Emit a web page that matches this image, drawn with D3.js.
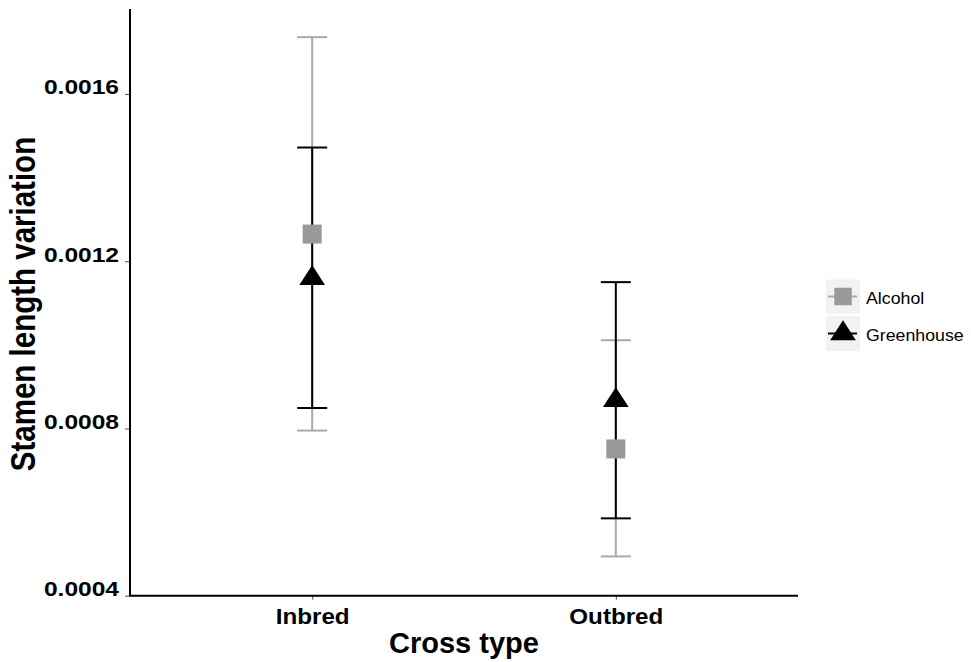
<!DOCTYPE html>
<html>
<head>
<meta charset="utf-8">
<script src="https://cdn.jsdelivr.net/npm/d3@7"></script>
<style>
  html, body { margin: 0; padding: 0; background: #fff; }
  svg { display: block; }
  text { font-family: "Liberation Sans", Arial, Helvetica, sans-serif; }
</style>
</head>
<body>
<svg id="chart" width="971" height="662"></svg>
<script>
// ---- data ----
const categories = ["Inbred", "Outbred"];
const seriesNames = ["Alcohol", "Greenhouse"];
const alcoholMean  = [0.001265, 0.000751];
const alcoholLower = [0.000795, 0.000494];
const alcoholUpper = [0.001736, 0.001011];
const greenhouseMean  = [0.001159, 0.000867];
const greenhouseLower = [0.000849, 0.000585];
const greenhouseUpper = [0.001472, 0.001150];
const yTicks = [0.0004, 0.0008, 0.0012, 0.0016];
const yTickLabels = ["0.0004", "0.0008", "0.0012", "0.0016"];

// ---- layout ----
const svg = d3.select("#chart");
const panel = { left: 130, right: 798, top: 9, bottom: 595.7 };
const colors = { Alcohol: { bar: "#a9a9a9", pt: "#999999" }, Greenhouse: { bar: "#000000", pt: "#000000" } };

const x = d3.scalePoint().domain(categories).range([panel.left, panel.right]).padding(0.6);
const y = d3.scaleLinear().domain([0.0004, 0.0018033]).range([panel.bottom, panel.top]);

const series = [
  { name: "Alcohol", mean: alcoholMean, lo: alcoholLower, hi: alcoholUpper, shape: "square" },
  { name: "Greenhouse", mean: greenhouseMean, lo: greenhouseLower, hi: greenhouseUpper, shape: "triangle" }
];

// ---- axes ----
const yAxis = d3.axisLeft(y).tickValues(yTicks).tickFormat((d, i) => yTickLabels[i]).tickSize(5).tickSizeOuter(0);
const gy = svg.append("g").attr("transform", `translate(${panel.left},0)`).call(yAxis);
gy.select(".domain").remove();
gy.selectAll(".tick line").attr("stroke", "#555").attr("stroke-width", 1);
gy.selectAll(".tick text")
  .attr("fill", "#000").attr("font-size", 21).attr("font-weight", "bold")
  .attr("dy", 0).attr("x", -11 / 1.17).attr("transform", "scale(1.17,1)");

const xAxis = d3.axisBottom(x).tickSize(4).tickSizeOuter(0);
const gx = svg.append("g").attr("transform", `translate(0,${panel.bottom})`).call(xAxis);
gx.select(".domain").remove();
gx.selectAll(".tick line").attr("stroke", "#555").attr("stroke-width", 1);
gx.selectAll(".tick text")
  .attr("fill", "#000").attr("font-size", 22).attr("font-weight", "bold")
  .attr("dy", 0).attr("y", 28.3).attr("transform", "scale(1.1,1)");

// axis lines
svg.append("line").attr("x1", panel.left).attr("x2", panel.left).attr("y1", panel.top).attr("y2", panel.bottom + 0.5)
  .attr("stroke", "#000").attr("stroke-width", 2);
svg.append("line").attr("x1", panel.left - 0.5).attr("x2", panel.right).attr("y1", panel.bottom).attr("y2", panel.bottom)
  .attr("stroke", "#000").attr("stroke-width", 2);

// axis titles
svg.append("text").attr("x", 464).attr("y", 652.7).attr("text-anchor", "middle")
  .attr("font-size", 29).attr("font-weight", "bold").attr("fill", "#000").text("Cross type");
svg.append("text").attr("transform", "translate(35,304) scale(1.16,1) rotate(-90)")
  .attr("text-anchor", "middle").attr("font-size", 29.5).attr("font-weight", "bold").attr("fill", "#000")
  .text("Stamen length variation");

// ---- error bars ----
const capHalf = 15;
series.forEach(s => {
  const g = svg.append("g").attr("stroke", colors[s.name].bar).attr("stroke-width", 2).attr("fill", "none");
  categories.forEach((c, i) => {
    const cx = x(c);
    g.append("line").attr("x1", cx).attr("x2", cx).attr("y1", y(s.hi[i])).attr("y2", y(s.lo[i]));
    g.append("line").attr("x1", cx - capHalf).attr("x2", cx + capHalf).attr("y1", y(s.hi[i])).attr("y2", y(s.hi[i]));
    g.append("line").attr("x1", cx - capHalf).attr("x2", cx + capHalf).attr("y1", y(s.lo[i])).attr("y2", y(s.lo[i]));
  });
});

// ---- points ----
function shapePath(shape, cx, cy, size) {
  if (shape === "square") {
    const h = size / 2;
    return `M${cx - h},${cy - h}H${cx + h}V${cy + h}H${cx - h}Z`;
  }
  const r = size; // apex at -r, base at +r/2
  const xc = r * 0.9667;
  return `M${cx},${cy - r}L${cx + xc},${cy + r / 2}L${cx - xc},${cy + r / 2}Z`;
}
series.forEach(s => {
  categories.forEach((c, i) => {
    svg.append("path")
      .attr("d", shapePath(s.shape, x(c), y(s.mean[i]), s.shape === "square" ? 19 : 13.3))
      .attr("fill", colors[s.name].pt);
  });
});

// ---- legend ----
const legendKeys = [{ y0: 279.5, h: 34 }, { y0: 316, h: 35 }];
series.forEach((s, i) => {
  const k = legendKeys[i];
  const cx = 843, cy = k.y0 + k.h / 2;
  const g = svg.append("g");
  g.append("rect").attr("x", 826).attr("y", k.y0).attr("width", 34).attr("height", k.h).attr("fill", "#f2f2f2");
  g.append("line").attr("x1", 828).attr("x2", 857).attr("y1", cy).attr("y2", cy)
    .attr("stroke", colors[s.name].bar).attr("stroke-width", 2);
  g.append("path").attr("d", shapePath(s.shape, cx, cy, s.shape === "square" ? 17.5 : 13.3)).attr("fill", colors[s.name].pt);
  g.append("g").attr("transform", `translate(866,${cy + 7})`)
    .append("text").attr("transform", "scale(1.11,1)").attr("font-size", 16).attr("fill", "#000").text(s.name);
});
</script>
</body>
</html>
